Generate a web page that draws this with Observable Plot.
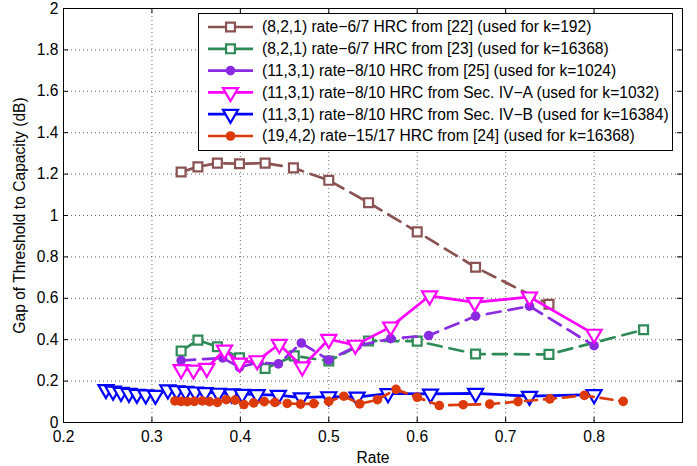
<!DOCTYPE html>
<html><head><meta charset="utf-8">
<script src="https://cdn.jsdelivr.net/npm/d3@7"></script>
<script src="https://cdn.jsdelivr.net/npm/@observablehq/plot@0.6"></script>
<style>
body{margin:0;background:#fff;}
#chart{width:697px;height:466px;}
</style></head><body><div id="chart"></div>
<script>
// ---- data ----
const xTicks = [0.2, 0.3, 0.4, 0.5, 0.6, 0.7, 0.8];
const yTicks = [0, 0.2, 0.4, 0.6, 0.8, 1, 1.2, 1.4, 1.6, 1.8, 2];

const brownRate = [0.333, 0.352, 0.374, 0.399, 0.428, 0.46, 0.5, 0.545, 0.6, 0.666, 0.749];
const brownGap  = [1.21, 1.235, 1.253, 1.25, 1.253, 1.23, 1.17, 1.062, 0.921, 0.75, 0.571];

const greenRate = [0.333, 0.352, 0.374, 0.399, 0.428, 0.461, 0.5, 0.545, 0.6, 0.666, 0.749, 0.856];
const greenGap  = [0.345, 0.398, 0.366, 0.313, 0.261, 0.322, 0.297, 0.394, 0.393, 0.331, 0.329, 0.448];

const purpleRate = [0.333, 0.38, 0.399, 0.421, 0.443, 0.469, 0.5, 0.532, 0.57, 0.613, 0.666, 0.727, 0.8];
const purpleGap  = [0.299, 0.312, 0.267, 0.29, 0.283, 0.384, 0.302, 0.37, 0.405, 0.42, 0.514, 0.562, 0.371];

const magentaRate = [0.333, 0.347, 0.362, 0.382, 0.399, 0.419, 0.444, 0.47, 0.5, 0.53, 0.57, 0.614, 0.665, 0.727, 0.8];
const magentaGap  = [0.256, 0.254, 0.262, 0.35, 0.288, 0.299, 0.378, 0.269, 0.402, 0.374, 0.462, 0.612, 0.58, 0.607, 0.427];

const blueRate = [0.248, 0.256, 0.265, 0.274, 0.283, 0.293, 0.304,
                  0.318, 0.328, 0.338, 0.349, 0.36, 0.375, 0.39, 0.402, 0.419, 0.443,
                  0.469, 0.5, 0.532, 0.567, 0.615, 0.666, 0.727, 0.8];
const blueGap  = [0.16, 0.152, 0.146, 0.141, 0.137, 0.134, 0.132,
                  0.158, 0.154, 0.151, 0.148, 0.145, 0.142, 0.139, 0.137, 0.135, 0.132,
                  0.12, 0.125, 0.123, 0.14, 0.138, 0.141, 0.127, 0.135];

const redRate = [0.326, 0.333, 0.34, 0.348, 0.357, 0.365, 0.374, 0.384, 0.394, 0.404, 0.415, 0.427,
                 0.439, 0.453, 0.468, 0.483, 0.5, 0.517, 0.535, 0.555, 0.576, 0.6, 0.625, 0.652,
                 0.682, 0.714, 0.75, 0.789, 0.833];
const redGap  = [0.104, 0.102, 0.101, 0.102, 0.104, 0.101, 0.097, 0.11, 0.108, 0.087, 0.095, 0.101,
                 0.097, 0.092, 0.089, 0.091, 0.102, 0.127, 0.09, 0.11, 0.16, 0.122, 0.082, 0.086,
                 0.089, 0.101, 0.114, 0.131, 0.102];

const seriesNames = [
  "(8,2,1) rate\u22126/7 HRC from [22] (used for k=192)",
  "(8,2,1) rate\u22126/7 HRC from [23] (used for k=16368)",
  "(11,3,1) rate\u22128/10 HRC from [25] (used for k=1024)",
  "(11,3,1) rate\u22128/10 HRC from Sec. IV\u2212A (used for k=1032)",
  "(11,3,1) rate\u22128/10 HRC from Sec. IV\u2212B (used for k=16384)",
  "(19,4,2) rate\u221215/17 HRC from [24] (used for k=16368)"
];

// ---- styling ----
const series = [
  {name: seriesNames[0], rate: brownRate, gap: brownGap, color: "#8a5252", dash: "14,8", symbol: "square", r: 5, fill: "white", sw: 2.2},
  {name: seriesNames[1], rate: greenRate, gap: greenGap, color: "#2e8b57", dash: "14,8", symbol: "square", r: 5, fill: "white", sw: 2.2},
  {name: seriesNames[2], rate: purpleRate, gap: purpleGap, color: "#8a2be2", dash: "14,8", symbol: "circle", r: 4.8, fill: "#8a2be2", sw: 0},
  {name: seriesNames[3], rate: magentaRate, gap: magentaGap, color: "#ff00ff", dash: null, symbol: "triangle", r: 5.6, fill: "white", sw: 2.2},
  {name: seriesNames[4], rate: blueRate, gap: blueGap, color: "#0000ff", dash: null, symbol: "triangle", r: 5.6, fill: "white", sw: 2.2},
  {name: seriesNames[5], rate: redRate, gap: redGap, color: "#dc3a08", dash: "12,7", symbol: "circle", r: 4.8, fill: "#dc3a08", sw: 0}
];

const W = 697, H = 466;
const mL = 63, mR = 15, mT = 8, mB = 44;
const innerW = W - mL - mR, innerH = H - mT - mB;
const FS = 15.6;
const fmt = d3.format("~g");

const marks = [
  Plot.gridX(xTicks, {stroke: "#000", strokeOpacity: 0.6, strokeDasharray: "1,3"}),
  Plot.gridY(yTicks, {stroke: "#000", strokeOpacity: 0.6, strokeDasharray: "1,3"}),
];

for (const s of series) {
  const data = s.rate.map((r, i) => ({rate: r, gap: s.gap[i]}));
  marks.push(Plot.line(data, {x: "rate", y: "gap", stroke: s.color, strokeWidth: 2.7,
    strokeDasharray: s.dash || undefined, strokeLinejoin: "round"}));
  marks.push(Plot.dot(data, {x: "rate", y: "gap", symbol: s.symbol, r: s.r,
    fill: s.fill, stroke: s.sw ? s.color : "none", strokeWidth: s.sw,
    rotate: s.symbol === "triangle" ? 180 : 0}));
}

// inward ticks on all four sides (MATLAB style)
marks.push(
  Plot.tickX(xTicks, {x: d => d, insetTop: innerH - 5, stroke: "black"}),
  Plot.tickX(xTicks, {x: d => d, insetBottom: innerH - 5, stroke: "black"}),
  Plot.tickY(yTicks, {y: d => d, insetRight: innerW - 5, stroke: "black"}),
  Plot.tickY(yTicks, {y: d => d, insetLeft: innerW - 5, stroke: "black"}),
  Plot.frame({stroke: "black", strokeWidth: 1}),
  Plot.axisX({ticks: xTicks, tickSize: 0, tickPadding: 8, tickFormat: fmt, label: "Rate",
    labelAnchor: "center", labelArrow: "none", labelOffset: 40}),
  Plot.axisY({ticks: yTicks, tickSize: 0, tickPadding: 5, tickFormat: fmt,
    label: "Gap of Threshold to Capacity (dB)", labelAnchor: "center", labelArrow: "none", labelOffset: 50})
);

// legend box drawn inside the SVG
function legendMark() {
  const g = d3.create("svg:g");
  const x0 = 198.5, y0 = 13.5, w = 474, h = 137;
  g.append("rect").attr("x", x0).attr("y", y0).attr("width", w).attr("height", h)
    .attr("fill", "white").attr("stroke", "black").attr("stroke-width", 1);
  series.forEach((s, i) => {
    const y = 27 + i * 21.8;
    g.append("line").attr("x1", 208).attr("x2", 253).attr("y1", y).attr("y2", y)
      .attr("stroke", s.color).attr("stroke-width", 2.7);
    const sym = s.symbol === "square" ? d3.symbolSquare : s.symbol === "triangle" ? d3.symbolTriangle : d3.symbolCircle;
    g.append("path").attr("d", d3.symbol(sym, Math.PI * s.r * s.r)())
      .attr("transform", `translate(230.5,${y})` + (s.symbol === "triangle" ? " rotate(180)" : ""))
      .attr("fill", s.fill).attr("stroke", s.sw ? s.color : "none").attr("stroke-width", s.sw);
    g.append("text").attr("x", 262).attr("y", y).attr("dy", "0.35em")
      .attr("text-anchor", "start").attr("fill", "black").attr("font-size", FS).text(s.name);
  });
  return g.node();
}
marks.push(legendMark);

const chart = Plot.plot({
  width: W, height: H,
  marginLeft: mL, marginRight: mR, marginTop: mT, marginBottom: mB,
  style: {fontFamily: "'Liberation Sans', Arial, Helvetica, sans-serif", fontSize: FS + "px", color: "black", background: "white"},
  x: {domain: [0.2, 0.9]},
  y: {domain: [0, 2]},
  marks
});
document.getElementById("chart").appendChild(chart);
</script>
</body></html>
